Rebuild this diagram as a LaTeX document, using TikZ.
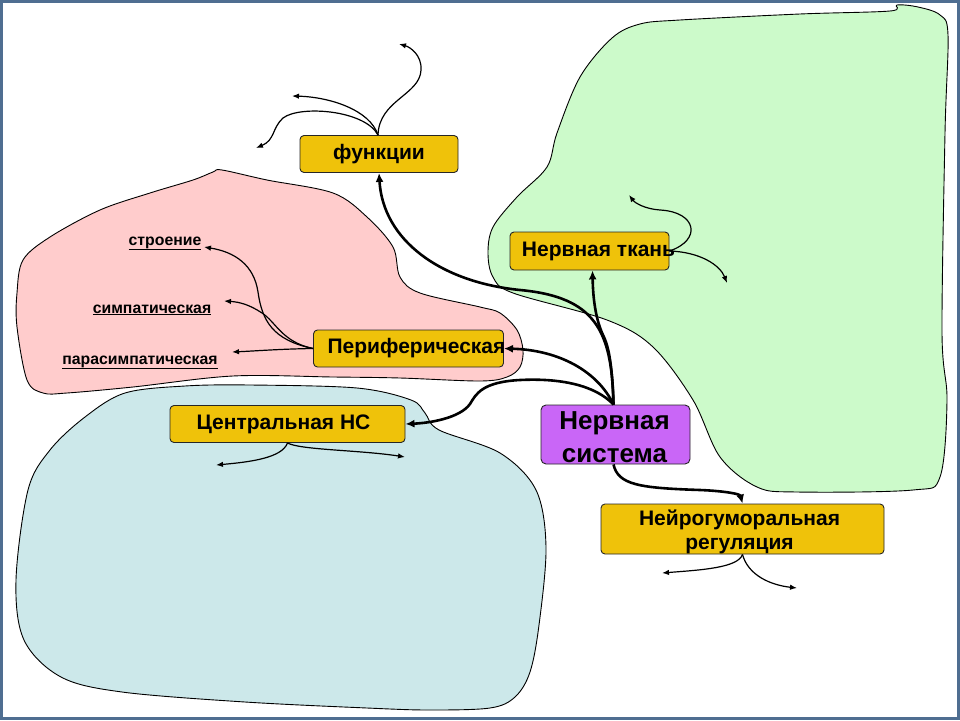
\documentclass[tikz,border=0pt]{standalone}
\usepackage{fontspec}
\setmainfont{Liberation Sans}
\usetikzlibrary{arrows.meta,calc}
\definecolor{boxy}{HTML}{EFC20A}
\definecolor{boxp}{HTML}{C966F7}
\definecolor{blobg}{HTML}{CCFACA}
\definecolor{blobp}{HTML}{FFCCCC}
\definecolor{blobb}{HTML}{CCE8EA}
\definecolor{frame}{HTML}{4F6E91}
\tikzset{
  ybox/.style={draw=black!85, fill=boxy, rounded corners=4pt, line width=0.9pt, inner sep=0pt},
  pbox/.style={draw=black!85, fill=boxp, rounded corners=5pt, line width=0.9pt, inner sep=0pt},
  btext/.style={inner sep=0pt, font=\bfseries\fontsize{21}{23.5}\selectfont, align=center},
  bigtext/.style={inner sep=0pt, font=\bfseries\fontsize{26}{33}\selectfont, align=center},
  small/.style={inner sep=0pt, anchor=base, font=\bfseries\fontsize{15.8}{18}\selectfont},
  blob/.style={draw=black, line width=0.9pt},
  thick arrow/.style={line width=2.6pt, -{Latex[length=9pt,width=8pt]}},
  thin arrow/.style={line width=1.2pt, -{Latex[length=7pt,width=5.5pt]}},
}
\begin{document}
\begin{tikzpicture}[x=1pt,y=-1pt]
\useasboundingbox (0,0) rectangle (960,720);
\fill[white] (0,0) rectangle (960,720);
% blobs
\draw[blob, fill=blobg] plot[smooth cycle, tension=0.55] coordinates {
 (580,77) (612,38) (640,24) (680,20) (800,14) (890,11) (897,5) (918,7) (940,15) (948,35)
 (945,133) (942,333) (947,400) (940,477) (913,490) (797,492) (757,487) (720,457) (693,400)
 (653,347) (607,320) (513,293) (493,277) (488,253) (493,227) (517,197) (547,167) (557,133)};
\draw[blob, fill=blobp] plot[smooth cycle, tension=0.55] coordinates {
 (213,172) (222,170) (267,180) (333,193) (367,217) (393,247) (400,277) (420,293) (480,307)
 (500,313) (517,330) (523,350) (520,367) (507,377) (480,381) (400,378) (333,377) (233,376)
 (133,387) (67,393) (43,393) (27,380) (17,327) (17,293) (23,260) (50,237) (100,210) (150,193) (193,180)};
\draw[blob, fill=blobb] plot[smooth cycle, tension=0.55] coordinates {
 (250,385) (357,388) (411,400) (425,413) (439,430) (500,453) (536,490) (546,547) (539,625)
 (530,672) (515,697) (490,708) (429,710) (367,708) (245,702) (122,692) (61,677) (24,640)
 (16,580) (28,490) (50,450) (85,417) (125,393) (185,386)};
% nodes
\node[ybox, minimum width=158pt, minimum height=37pt] (fk) at (379,154) {};
\node[btext] (fkT) at (fk.center) {функции};
\node[ybox, minimum width=159pt, minimum height=38pt] (tk) at (589.5,251) {};
\node[btext] (tkT) at ($(tk.center)+(9,0)$) {Нервная ткань};
\node[ybox, minimum width=190pt, minimum height=37pt] (pe) at (408.5,348.5) {};
\node[btext] (peT) at ($(pe.center)+(8,0)$) {Периферическая};
\node[ybox, minimum width=235pt, minimum height=37pt] (ce) at (287.5,424) {};
\node[btext] (ceT) at ($(ce.center)+(-4,0)$) {Центральная НС};
\node[pbox, minimum width=149pt, minimum height=59pt] (ns) at (615.5,434.5) {};
\node[bigtext] (nsT) at ($(ns.center)+(-1,3)$) {Нервная\\система};
\node[ybox, minimum width=283pt, minimum height=50pt] (nr) at (742.5,529) {};
\node[btext] (nrT) at ($(nr.center)+(-3,3)$) {Нейрогуморальная\\регуляция};
% small labels
\node[small] (s1) at (165,245) {\underline{строение}};
\node[small] (s2) at (152,313) {\underline{симпатическая}};
\node[small] (s3) at (140,364) {\underline{парасимпатическая}};
% thick arrows from Нервная система
\draw[thick arrow] ($(ns.north)+(-2,0)$) .. controls (612,330) and (595,297) .. (520,290)
   .. controls (440,282) and (383,240) .. (fk.south);
\draw[thick arrow] ($(ns.north)+(-2,0)$) .. controls (612,360) and (608,345) .. (603,335)
   .. controls (596,320) and (593,300) .. ($(tk.south)+(3,0)$);
\draw[thick arrow] ($(ns.north)+(-2,0)$) .. controls (598,372) and (560,350) .. (pe.east);
\draw[thick arrow] ($(ns.north)+(-2,0)$) .. controls (595,385) and (560,378) .. (520,380)
   .. controls (482,382) and (476,394) .. (470,404) .. controls (460,418) and (430,423) .. (ce.east);
\draw[thick arrow] ($(ns.south)+(-2,0)$) .. controls (618,485) and (640,488) .. (700,490)
   .. controls (725,491) and (740,494) .. (nr.north);
% thin arrows: функции
\coordinate (f1) at (399,44);
\coordinate (f2) at (292,96);
\coordinate (f3) at (256,148);
\draw[thin arrow] ($(fk.north)+(-1,0)$) .. controls (379,100) and (420,95) .. (421,70)
   .. controls (422,55) and (410,47) .. (f1);
\draw[thin arrow] ($(fk.north)+(-1,0)$) .. controls (370,110) and (330,97) .. (f2);
\draw[thin arrow] ($(fk.north)+(-1,0)$) .. controls (365,110) and (300,105) .. (283,118)
   .. controls (272,128) and (275,140) .. (f3);
% Нервная ткань
\coordinate (t1) at (629,195);
\coordinate (t2) at (727,283);
\draw[thin arrow] (tk.east) .. controls (702,240) and (697,212) .. (660,210)
   .. controls (645,209) and (635,203) .. (t1);
\draw[thin arrow] (tk.east) .. controls (700,252) and (720,265) .. (t2);
% Периферическая
\coordinate (p1) at (204,247);
\coordinate (p2) at (224,301);
\coordinate (p3) at (232,352);
\draw[thin arrow] (pe.west) .. controls (272,340) and (262,320) .. (258,292)
   .. controls (254,265) and (235,252) .. (p1);
\draw[thin arrow] (pe.west) .. controls (282,342) and (276,322) .. (262,313)
   .. controls (250,305) and (240,302) .. (p2);
\draw[thin arrow] (pe.west) .. controls (280,349) and (255,351) .. (p3);
% Центральная НС
\coordinate (c1) at (216,465);
\coordinate (c2) at (405,457);
\draw[thin arrow] (ce.south) .. controls (282,458) and (250,462) .. (c1);
\draw[thin arrow] (ce.south) .. controls (300,450) and (360,450) .. (c2);
% Нейрогуморальная
\coordinate (r1) at (662,573);
\coordinate (r2) at (797,588);
\draw[thin arrow] (nr.south) .. controls (738,568) and (700,570) .. (r1);
\draw[thin arrow] (nr.south) .. controls (748,575) and (770,585) .. (r2);
% frame
\draw[frame, line width=3pt] (1.5,1.5) rectangle (958.5,718.5);
\end{tikzpicture}
\end{document}
